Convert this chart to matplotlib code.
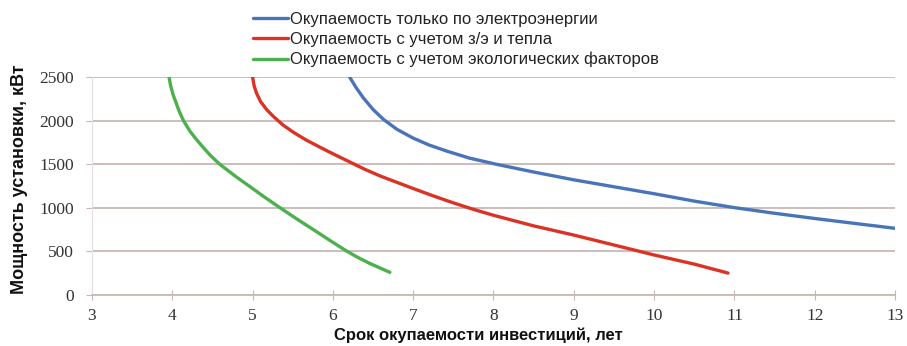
import matplotlib
matplotlib.use("Agg")
import matplotlib.pyplot as plt

# payback period (years) vs. installed power (kW)
elec_years = [6.21, 6.29, 6.38, 6.50, 6.63, 6.80, 7.00, 7.20, 7.42, 7.70, 8.04, 8.50, 9.00, 9.50,
              10.00, 10.50, 11.00, 11.50, 12.00, 12.50, 13.00]
elec_power = [2500, 2380, 2262, 2130, 2015, 1900, 1800, 1720, 1650, 1570, 1498, 1410, 1320, 1240,
              1160, 1075, 1000, 935, 875, 818, 762]

heat_years = [5.00, 5.02, 5.05, 5.10, 5.18, 5.27, 5.38, 5.52, 5.67, 5.85, 6.00, 6.20, 6.40, 6.60,
              6.80, 7.00, 7.25, 7.50, 7.75, 8.00, 8.50, 9.00, 9.50, 10.00, 10.50, 10.92]
heat_power = [2500, 2400, 2315, 2220, 2123, 2040, 1950, 1860, 1777, 1690, 1620, 1530, 1440, 1360,
              1290, 1220, 1135, 1055, 980, 912, 790, 684, 570, 455, 350, 247]

eco_years = [3.96, 3.98, 4.01, 4.05, 4.09, 4.14, 4.22, 4.30, 4.36, 4.47, 4.59, 4.78, 4.97, 5.15,
             5.34, 5.55, 5.76, 5.95, 6.15, 6.30, 6.45, 6.60, 6.71]
eco_power = [2500, 2400, 2300, 2200, 2100, 2000, 1880, 1785, 1720, 1605, 1500, 1365, 1240, 1120,
             1000, 870, 745, 630, 512, 432, 362, 300, 255]

labels = ["Окупаемость только по электроэнергии",
          "Окупаемость с учетом з/э и тепла",
          "Окупаемость с учетом экологических факторов"]
colors = ["#4a74b8", "#dc3226", "#4cb04c"]

sans = ["Liberation Sans", "DejaVu Sans"]
serif = ["Liberation Serif", "DejaVu Serif"]

fig = plt.figure(figsize=(9.07, 3.46), dpi=100)
ax = fig.add_axes([0.1014, 0.1488, 0.8854, 0.6278])

for xs, ys, lab, c in zip([elec_years, heat_years, eco_years],
                          [elec_power, heat_power, eco_power], labels, colors):
    ax.plot(xs, ys, color=c, lw=2.4, label=lab, solid_capstyle="round",
            solid_joinstyle="round")

ax.set_xlim(3, 13)
ax.set_ylim(0, 2500)
ax.set_xticks(range(3, 14))
ax.set_yticks(range(0, 2501, 500))
ax.grid(axis="y", color="#c8b8b4", lw=1.3)
ax.set_axisbelow(True)

for s in ["top", "right"]:
    ax.spines[s].set_visible(False)
ax.spines["left"].set_color("#e4e0e0")
ax.spines["bottom"].set_color("#c8b8b4")
ax.spines["bottom"].set_linewidth(1.3)
ax.tick_params(axis="x", direction="inout", length=7, color="#c8b8b4", pad=6)
ax.tick_params(axis="y", length=4, color="#c8b8b4", pad=9)
for t in ax.get_xticklabels() + ax.get_yticklabels():
    t.set_family(serif)
    t.set_fontsize(12.5)
    t.set_color("#333333")

ax.set_xlabel("Срок окупаемости инвестиций, лет", family=sans,
              fontweight="bold", fontsize=12, color="#111111")
ax.xaxis.set_label_coords(0.481, -0.15)
ax.set_ylabel("Мощность установки, кВт", family=sans,
              fontweight="bold", fontsize=13, color="#111111")
ax.yaxis.set_label_coords(-0.08, 0.53)

leg = fig.legend(loc="upper left", bbox_to_anchor=(0.272, 0.985), frameon=False,
                 handlelength=2.05, handletextpad=0.15, labelspacing=0.3,
                 borderaxespad=0, prop={"family": sans, "size": 12})
for t in leg.get_texts():
    t.set_color("#222222")

fig.savefig("out.png", dpi=100)
